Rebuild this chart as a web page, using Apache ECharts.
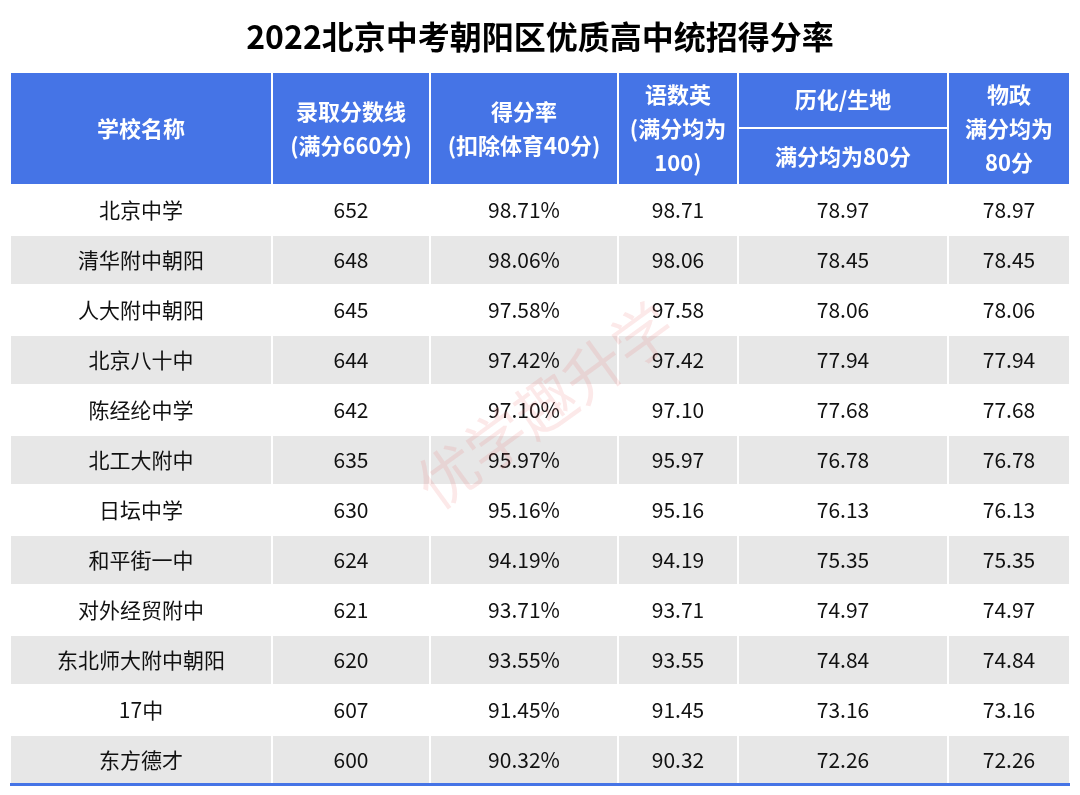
<!DOCTYPE html>
<html>
<head>
<meta charset="utf-8">
<script src="https://cdn.jsdelivr.net/npm/echarts@6/dist/echarts.min.js"></script>
<style>html,body{margin:0;padding:0;background:#fff}#main{width:1080px;height:795px}</style>
</head>
<body>
<div id="main"></div>
<script>
// table data
var schools = ['北京中学','清华附中朝阳','人大附中朝阳','北京八十中','陈经纶中学','北工大附中','日坛中学','和平街一中','对外经贸附中','东北师大附中朝阳','17中','东方德才'];
var scores = [652,648,645,644,642,635,630,624,621,620,607,600];
var rates = ['98.71%','98.06%','97.58%','97.42%','97.10%','95.97%','95.16%','94.19%','93.71%','93.55%','91.45%','90.32%'];
var mainSubj = ['98.71','98.06','97.58','97.42','97.10','95.97','95.16','94.19','93.71','93.55','91.45','90.32'];
var histGeo = ['78.97','78.45','78.06','77.94','77.68','76.78','76.13','75.35','74.97','74.84','73.16','72.26'];
var physPol = ['78.97','78.45','78.06','77.94','77.68','76.78','76.13','75.35','74.97','74.84','73.16','72.26'];
var headers = ['学校名称','录取分数线\n(满分660分)','得分率\n(扣除体育40分)','语数英\n(满分均为\n100)','历化/生地','物政\n满分均为\n80分'];
var subHeader = '满分均为80分';

// layout
var colWidths = [262,158,188,120,210,122];
var headH = 2.26, subSplit = 1.12;
var colStart = [0];
colWidths.forEach(function (w, i) { colStart.push(colStart[i] + w); });

var cells = [];
headers.forEach(function (h, c) {
    if (c === 4) {
        cells.push([c, 0, subSplit, h, 'head']);
        cells.push([c, subSplit, headH, subHeader, 'head']);
    } else {
        cells.push([c, 0, headH, h, 'head']);
    }
});
var cols = [schools, scores, rates, mainSubj, histGeo, physPol];
schools.forEach(function (s, r) {
    cols.forEach(function (arr, c) {
        cells.push([c, headH + r, headH + r + 1, String(arr[r]), r % 2 ? 'gray' : 'white']);
    });
});

var chart = echarts.init(document.getElementById('main'));
chart.setOption({
    title: {
        text: '2022北京中考朝阳区优质高中统招得分率',
        left: 'center', top: 16,
        textStyle: {fontFamily: 'Noto Sans CJK SC', fontSize: 32, fontWeight: 'bold', color: '#000'}
    },
    grid: {left: 10, right: 10, top: 72, bottom: 10},
    xAxis: {type: 'value', min: 0, max: colStart[colStart.length - 1], show: false},
    yAxis: {type: 'value', min: 0, max: headH + schools.length, inverse: true, show: false},
    graphic: [{
        type: 'text', x: 545, y: 405, rotation: Math.PI / 5, silent: true, z: 100,
        style: {text: '优学趣升学', fontSize: 60, fill: 'rgba(235,110,110,0.15)', fontFamily: 'Noto Sans CJK SC',
            align: 'center', verticalAlign: 'middle'}
    }],
    series: [{
        type: 'custom',
        data: cells,
        renderItem: function (params, api) {
            var d = cells[params.dataIndex];
            var p0 = api.coord([colStart[d[0]], d[1]]);
            var p1 = api.coord([colStart[d[0] + 1], d[2]]);
            var head = d[4] === 'head';
            var fill = head ? '#4574E6' : (d[4] === 'gray' ? '#E7E7E7' : '#ffffff');
            var children = [{
                type: 'rect',
                shape: {x: p0[0] + 1, y: p0[1] + 1, width: p1[0] - p0[0] - 2, height: p1[1] - p0[1] - 2},
                style: {fill: fill}
            }, {
                type: 'text',
                style: {
                    text: d[3], x: (p0[0] + p1[0]) / 2, y: (p0[1] + p1[1]) / 2,
                    align: 'center', verticalAlign: 'middle',
                    fontFamily: 'Noto Sans CJK SC', fontSize: head ? 22 : 21,
                    fontWeight: head ? 'bold' : 'normal', lineHeight: 34,
                    fill: head ? '#fff' : '#111'
                }
            }];
            if (!head && d[2] === headH + schools.length) {
                children.push({type: 'rect', shape: {x: p0[0], y: p1[1] - 2, width: p1[0] - p0[0], height: 3}, style: {fill: '#4574E6'}});
            }
            return {type: 'group', children: children};
        }
    }]
});
</script>
</body>
</html>
